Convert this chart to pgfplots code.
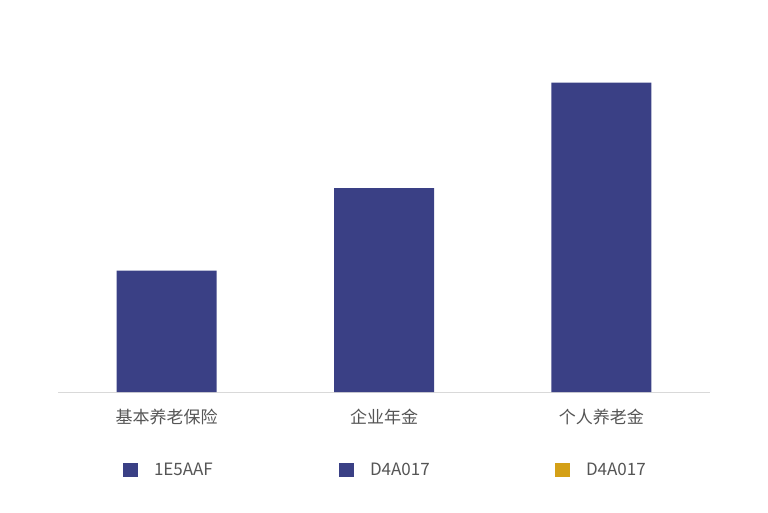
\documentclass[border=0pt]{standalone}
\usepackage{pgfplots}
\pgfplotsset{compat=1.18}
\usepackage{fontspec}
\setmainfont{Noto Sans CJK SC}
\definecolor{barblue}{HTML}{3A4085}
\definecolor{gold}{HTML}{D4A017}
\definecolor{axgray}{HTML}{D9D9D9}
\definecolor{txtgray}{HTML}{555555}
\begin{document}
\begin{tikzpicture}
\path[use as bounding box] (0,0) rectangle (768pt,512pt);
\begin{axis}[
  at={(58pt,120pt)}, anchor=south west,
  scale only axis, width=652pt, height=352pt,
  xmin=-0.5, xmax=2.5, ymin=0, ymax=352,
  enlargelimits=false,
  axis x line*=bottom, axis y line=none,
  x axis line style={draw=axgray, line width=0.8pt, -},
  xtick={0,1,2},
  xticklabels={基本养老保险,企业年金,个人养老金},
  major tick length=0pt,
  ytick=\empty,
  xticklabel style={font=\fontsize{17}{20}\selectfont, text=txtgray, yshift=-14pt},
  legend columns=3,
  legend style={at={(0.0997,-0.222)}, anchor=west, draw=none, inner sep=0pt, outer sep=0pt,
    font=\fontsize{17}{20}\selectfont, text=txtgray, fill=none},
  legend image code/.code={\fill[#1, draw=none] (0pt,-7pt) rectangle (15pt,7pt);},
]
\addplot[ybar, bar width=100pt, fill=barblue, draw=none, forget plot] coordinates {(0,121.3) (1,204) (2,309.3)};
\addlegendimage{fill=barblue, draw=none}
\addlegendentry{\makebox[197pt][l]{\hspace{14pt}1E5AAF}}
\addlegendimage{fill=barblue, draw=none}
\addlegendentry{\makebox[197pt][l]{\hspace{14pt}D4A017}}
\addlegendimage{fill=gold, draw=none}
\addlegendentry{\hspace{14pt}D4A017}
\end{axis}
\end{tikzpicture}
\end{document}
